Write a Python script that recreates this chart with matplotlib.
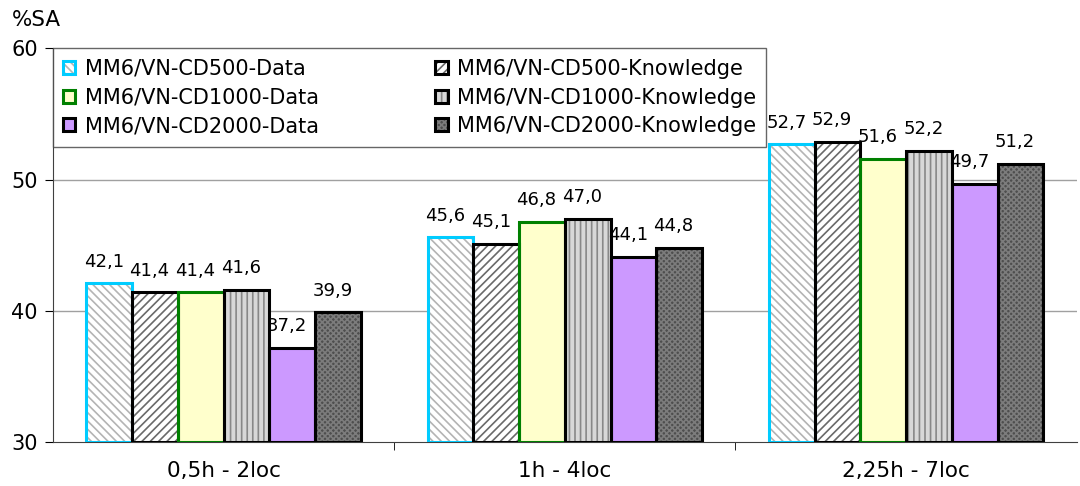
import matplotlib
matplotlib.use('Agg')
import matplotlib.pyplot as plt
import numpy as np

# groups and series
categories = ['0,5h - 2loc', '1h - 4loc', '2,25h - 7loc']
series_names = ['MM6/VN-CD500-Data', 'MM6/VN-CD500-Knowledge',
                'MM6/VN-CD1000-Data', 'MM6/VN-CD1000-Knowledge',
                'MM6/VN-CD2000-Data', 'MM6/VN-CD2000-Knowledge']
cd500_data = [42.1, 45.6, 52.7]
cd500_know = [41.4, 45.1, 52.9]
cd1000_data = [41.4, 46.8, 51.6]
cd1000_know = [41.6, 47.0, 52.2]
cd2000_data = [37.2, 44.1, 49.7]
cd2000_know = [39.9, 44.8, 51.2]
values = [cd500_data, cd500_know, cd1000_data, cd1000_know, cd2000_data, cd2000_know]

# face, hatch, hatch colour, edge colour
styles = [
    ('white', '\\\\\\\\', '#b4b4b4', '#00ccff'),
    ('white', '////', '#6a6a6a', 'black'),
    ('#ffffcc', None, None, '#008000'),
    ('#d8d8d8', '|||', '#888888', 'black'),
    ('#cc99ff', None, None, 'black'),
    ('#4e4e4e', 'xxxxxx', '#7c7c7c', 'black'),
]

plt.rcParams['font.family'] = ['DejaVu Sans']
plt.rcParams['hatch.linewidth'] = 1.2

fig = plt.figure(figsize=(10.8, 4.86), dpi=100)
ax = fig.add_axes([0.049, 0.0905, 0.948, 0.81])

x = np.arange(len(categories))
w = 0.134
handles = []
for i, (vals, st) in enumerate(zip(values, styles)):
    face, hatch, hcol, ecol = st
    pos = x + (i - 2.5) * w
    if hatch:
        ax.bar(pos, np.array(vals) - 30, w, bottom=30, color=face,
               hatch=hatch, edgecolor=hcol, linewidth=0, zorder=2)
    else:
        ax.bar(pos, np.array(vals) - 30, w, bottom=30, color=face,
               linewidth=0, zorder=2)
    ax.bar(pos, np.array(vals) - 30, w, bottom=30, fill=False,
           edgecolor=ecol, linewidth=2.2, zorder=3)
    for px, v in zip(pos, vals):
        ax.annotate(f'{v:.1f}'.replace('.', ','), (px, v), xytext=(-4, 9),
                    textcoords='offset points', ha='center', va='bottom',
                    fontsize=13)
    h1 = plt.Rectangle((0, 0), 1, 1, facecolor=face, hatch=hatch,
                       edgecolor=hcol if hatch else face, linewidth=0)
    h2 = plt.Rectangle((0, 0), 1, 1, fill=False, edgecolor=ecol, linewidth=2.2)
    handles.append((h1, h2))

ax.set_ylim(30, 60)
ax.set_xlim(-0.5, 2.5)
ax.set_yticks([30, 40, 50, 60])
ax.tick_params(axis='y', labelsize=15, length=6, direction='out', pad=5)
ax.set_xticks(x)
ax.set_xticklabels(categories, fontsize=15.5)
ax.tick_params(axis='x', length=0, pad=14)
ax.set_xticks([0.5, 1.5], minor=True)
ax.tick_params(axis='x', which='minor', length=6)
for yv in [40, 50]:
    ax.axhline(yv, color='#a0a0a0', linewidth=1, zorder=1)
ax.spines['top'].set_visible(False)
ax.spines['right'].set_visible(False)
ax.spines['left'].set_color('#404040')
ax.spines['bottom'].set_color('#404040')

order = [0, 2, 4, 1, 3, 5]
leg = ax.legend([handles[i] for i in order], [series_names[i] for i in order],
                ncol=2, loc='upper left', bbox_to_anchor=(0.0, 1.0),
                fontsize=15, frameon=True, fancybox=False, edgecolor='#404040',
                handlelength=0.58, handleheight=0.58, handletextpad=0.45,
                columnspacing=5.6, labelspacing=0.42, borderaxespad=0.0,
                borderpad=0.5)
leg.get_frame().set_linewidth(1)

fig.text(0.011, 0.958, '%SA', fontsize=15.5, va='center', ha='left')

fig.savefig('out.png', dpi=100)
